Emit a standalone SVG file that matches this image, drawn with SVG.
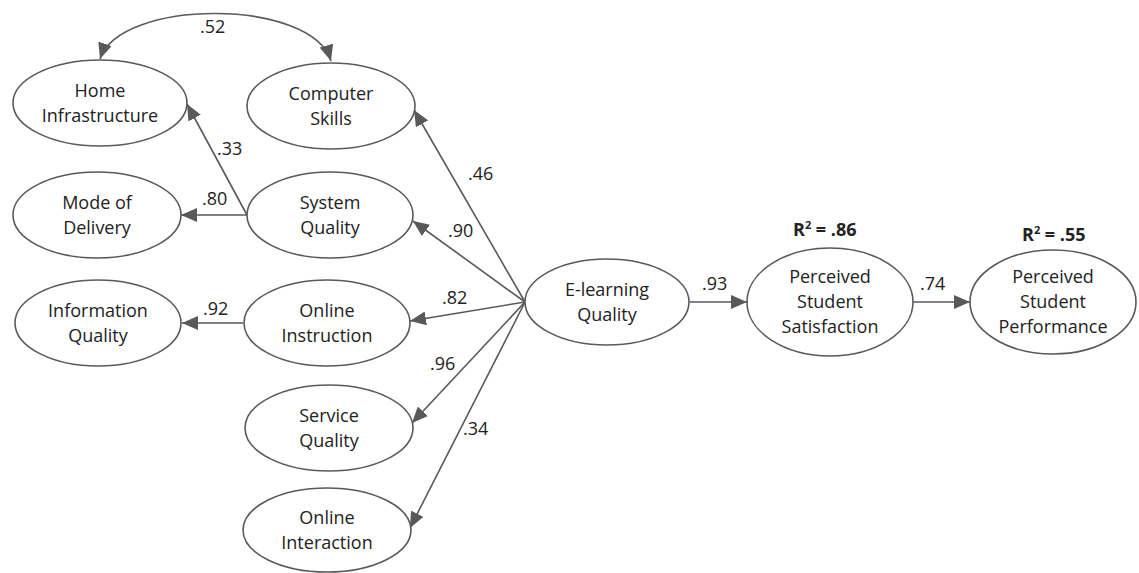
<svg xmlns="http://www.w3.org/2000/svg" width="1139" height="573" viewBox="0 0 1139 573">
<style>
.n ellipse{fill:#fff;stroke:#595959;stroke-width:1.6}
text{font-family:"Open Sans","DejaVu Sans",sans-serif;font-size:18px;fill:#222}
.n text{text-anchor:middle}
.c line,.c path{stroke:#595959;stroke-width:1.6;fill:none}
.a{marker-end:url(#ah)}
.b{font-weight:bold}
</style>
<defs>
<marker id="ah" markerUnits="userSpaceOnUse" markerWidth="18" markerHeight="14" refX="16" refY="7" orient="auto-start-reverse">
<path d="M0,0 L16,7 L0,14 z" fill="#595959"/>
</marker>
</defs>
<rect width="1139" height="573" fill="#fff"/>
<g class="c">
<path d="M100,59 C120,-2 312,-2 331,61" marker-start="url(#ah)" marker-end="url(#ah)"/>
<line class="a" x1="247" y1="215" x2="187" y2="104"/>
<line class="a" x1="247" y1="215" x2="181" y2="215"/>
<line class="a" x1="243" y1="323" x2="182" y2="323"/>
<line class="a" x1="525" y1="302" x2="414" y2="110"/>
<line class="a" x1="525" y1="302" x2="413" y2="221"/>
<line class="a" x1="525" y1="302" x2="410" y2="321"/>
<line class="a" x1="525" y1="302" x2="412" y2="423"/>
<line class="a" x1="525" y1="302" x2="410" y2="528"/>
<line class="a" x1="690" y1="302" x2="747" y2="302"/>
<line class="a" x1="913" y1="302" x2="970" y2="302"/>
</g>
<g id="labels">
<text x="200" y="33">.52</text>
<text x="217" y="155">.33</text>
<text x="202" y="205">.80</text>
<text x="203" y="315">.92</text>
<text x="468" y="180">.46</text>
<text x="448" y="237">.90</text>
<text x="442" y="304">.82</text>
<text x="430" y="370">.96</text>
<text x="463" y="435">.34</text>
<text x="702" y="290">.93</text>
<text x="920" y="290">.74</text>
<text class="b" x="793" y="236">R<tspan font-size="11" dy="-7">2</tspan><tspan dy="7"> = .86</tspan></text>
<text class="b" x="1022" y="241">R<tspan font-size="11" dy="-7">2</tspan><tspan dy="7"> = .55</tspan></text>
</g>
<g id="home" class="n"><ellipse cx="100" cy="103" rx="87" ry="43"/><text x="100" y="97">Home</text><text x="100" y="122">Infrastructure</text></g>
<g id="computer" class="n"><ellipse cx="331" cy="106" rx="84" ry="43"/><text x="331" y="100">Computer</text><text x="331" y="125">Skills</text></g>
<g id="mode" class="n"><ellipse cx="97" cy="215" rx="84" ry="43"/><text x="97" y="209">Mode of</text><text x="97" y="234">Delivery</text></g>
<g id="system" class="n"><ellipse cx="330" cy="215" rx="83" ry="43"/><text x="330" y="209">System</text><text x="330" y="234">Quality</text></g>
<g id="information" class="n"><ellipse cx="98" cy="323" rx="83" ry="43"/><text x="98" y="317">Information</text><text x="98" y="342">Quality</text></g>
<g id="instruction" class="n"><ellipse cx="327" cy="323" rx="83" ry="43"/><text x="327" y="317">Online</text><text x="327" y="342">Instruction</text></g>
<g id="service" class="n"><ellipse cx="329" cy="428" rx="84" ry="43"/><text x="329" y="422">Service</text><text x="329" y="447">Quality</text></g>
<g id="interaction" class="n"><ellipse cx="327" cy="530" rx="84" ry="42"/><text x="327" y="524">Online</text><text x="327" y="549">Interaction</text></g>
<g id="elearning" class="n"><ellipse cx="607" cy="302" rx="82" ry="43"/><text x="607" y="296">E-learning</text><text x="607" y="321">Quality</text></g>
<g id="satisfaction" class="n"><ellipse cx="830" cy="302" rx="83" ry="54"/><text x="830" y="283">Perceived</text><text x="830" y="308">Student</text><text x="830" y="333">Satisfaction</text></g>
<g id="performance" class="n"><ellipse cx="1053" cy="302" rx="83" ry="52"/><text x="1053" y="283">Perceived</text><text x="1053" y="308">Student</text><text x="1053" y="333">Performance</text></g>
</svg>
